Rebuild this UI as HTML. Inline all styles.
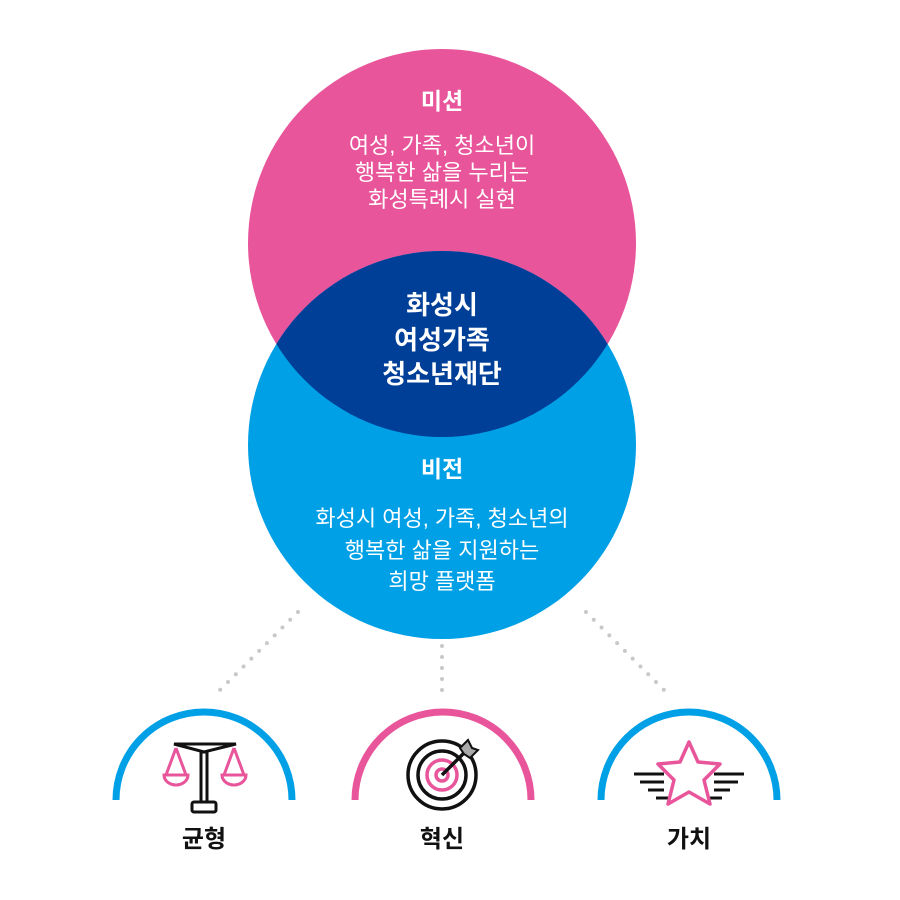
<!DOCTYPE html>
<html><head><meta charset="utf-8"><style>
html,body{margin:0;padding:0;background:#fff}
svg{display:block}
text{font-family:"Liberation Sans","Noto Sans CJK KR","NanumGothic",sans-serif}
</style></head><body>
<svg width="900" height="900" viewBox="0 0 900 900" xmlns="http://www.w3.org/2000/svg">
<defs>
<clipPath id="cp"><circle cx="442" cy="243" r="194"/></clipPath>
</defs>
<circle cx="442" cy="243" r="194" fill="#e8559a"/>
<circle cx="442" cy="445" r="194" fill="#00a0e6"/>
<circle cx="442" cy="445" r="194" fill="#003f98" clip-path="url(#cp)"/>
<g fill="#fff" text-anchor="middle">
<text x="442" y="109" font-size="23" font-weight="bold">미션</text>
<text x="442" y="153" font-size="22">여성, 가족, 청소년이</text>
<text x="442" y="180" font-size="22">행복한 삶을 누리는</text>
<text x="442" y="207" font-size="22">화성특례시 실현</text>
<text x="442" y="314" font-size="26" font-weight="bold">화성시</text>
<text x="442" y="349" font-size="26" font-weight="bold">여성가족</text>
<text x="442" y="383" font-size="26" font-weight="bold">청소년재단</text>
<text x="442" y="477" font-size="23" font-weight="bold">비전</text>
<text x="442" y="526" font-size="22">화성시 여성, 가족, 청소년의</text>
<text x="442" y="558" font-size="22">행복한 삶을 지원하는</text>
<text x="442" y="589" font-size="22">희망 플랫폼</text>
</g>
<g stroke="#c8c8c8" stroke-width="4" stroke-linecap="round" stroke-dasharray="0 11">
<line x1="298" y1="612" x2="220" y2="690"/>
<line x1="442" y1="646" x2="442" y2="700"/>
<line x1="586" y1="612" x2="664" y2="690"/>
</g>
<g fill="none" stroke-width="7">
<path d="M116 800 A88 88 0 0 1 292 800" stroke="#00a0e6"/>
<path d="M355 800 A88 88 0 0 1 531 800" stroke="#e8559a"/>
<path d="M601 800 A88 88 0 0 1 777 800" stroke="#00a0e6"/>
</g>
<g fill="none" stroke-width="3">
<path d="M174 744 L236 744 L204 752 Z" stroke="#111"/>
<rect x="201" y="752" width="6" height="50" stroke="#111"/>
<rect x="192" y="802" width="24" height="10" rx="2" stroke="#111"/>
<path d="M176 748 L166 775 M176 748 L186 775 M164 775 A12 10 0 0 0 188 775 Z" stroke="#e8559a"/>
<path d="M234 748 L224 775 M234 748 L244 775 M222 775 A12 10 0 0 0 246 775 Z" stroke="#e8559a"/>
</g>
<g fill="none" stroke-width="3.5">
<circle cx="442" cy="775" r="34" stroke="#111"/>
<circle cx="442" cy="775" r="24" stroke="#111"/>
<circle cx="442" cy="775" r="15" stroke="#e8559a"/>
<circle cx="442" cy="775" r="6" stroke="#e8559a"/>
<line x1="442" y1="775" x2="466" y2="751" stroke="#111"/>
<path d="M460 748 L468 740 L472 748 L478 750 L470 758 L464 754 Z" fill="#aaa" stroke="#111" stroke-width="2"/>
</g>
<g fill="none" stroke="#111" stroke-width="3">
<path d="M634 774 L664 774 M640 782 L664 782 M648 790 L664 790 M656 798 L668 798"/>
<path d="M744 774 L714 774 M738 782 L714 782 M730 790 L714 790 M722 798 L710 798"/>
</g>
<path d="M689 742 L698 762 L720 764 L704 780 L710 804 L689 792 L668 804 L674 780 L658 764 L680 762 Z" fill="#fff" stroke="#e8559a" stroke-width="3.5" stroke-linejoin="round"/>
<g fill="#111" text-anchor="middle" font-size="24" font-weight="bold">
<text x="204" y="847">균형</text>
<text x="442" y="847">혁신</text>
<text x="689" y="847">가치</text>
</g>
</svg>
</body></html>
